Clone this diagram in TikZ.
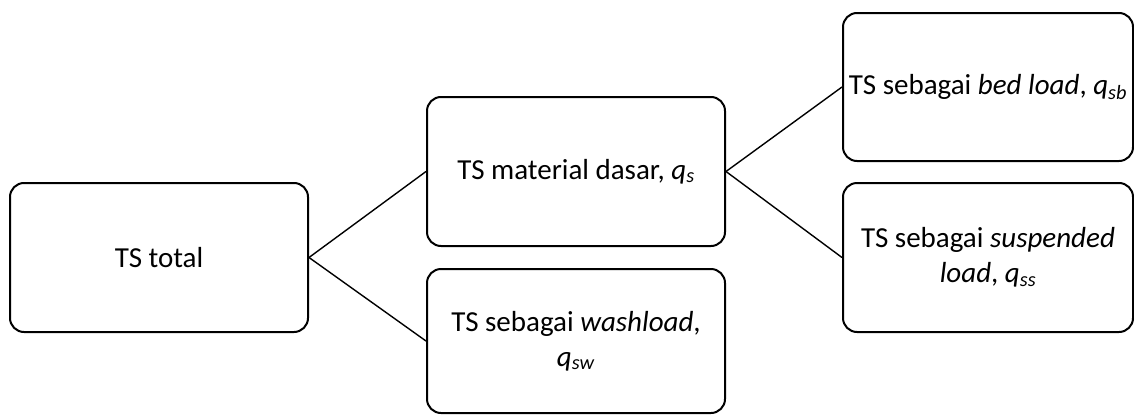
\documentclass[tikz,border=0pt]{standalone}
\usepackage{fontspec}
\setmainfont{Carlito}
\begin{document}
\begin{tikzpicture}[x=1pt,y=-1pt,
  box/.style={draw=black, line width=2pt, rounded corners=14pt, align=center,
    font=\fontsize{29}{35}\selectfont, inner sep=0pt},
  link/.style={draw=black, line width=1.4pt}]
\useasboundingbox (0,0) rectangle (1134,415);
\node[box, minimum width=298pt, minimum height=149pt] (total) at (159,257.5) {TS total};
\node[box, minimum width=298pt, minimum height=149pt] (dasar) at (576,171.5) {TS material dasar, \textit{q}\textsubscript{\textit{s}}};
\node[box, minimum width=298pt, minimum height=144pt] (wash) at (576,341) {TS sebagai \textit{washload},\\\textit{q}\textsubscript{\textit{sw}}};
\node[box, minimum width=290pt, minimum height=148pt] (bed) at (988,87) {TS sebagai \textit{bed load}, \textit{q}\textsubscript{\textit{sb}}};
\node[box, minimum width=290pt, minimum height=149pt] (susp) at (988,257.5) {TS sebagai \textit{suspended}\\\textit{load}, \textit{q}\textsubscript{\textit{ss}}};
\draw[link] (total.east) -- (dasar.west);
\draw[link] (total.east) -- (wash.west);
\draw[link] (dasar.east) -- (bed.west);
\draw[link] (dasar.east) -- (susp.west);
\end{tikzpicture}
\end{document}
